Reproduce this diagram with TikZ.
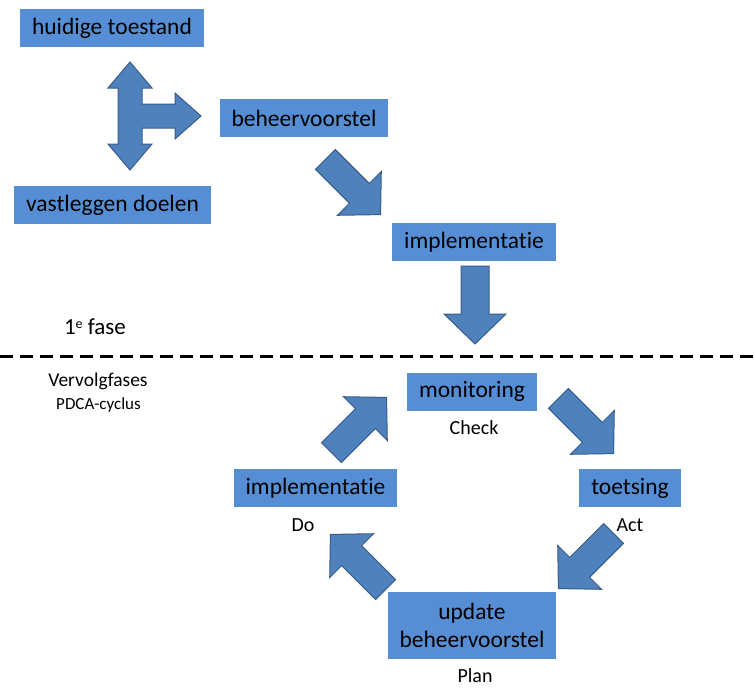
\documentclass[tikz,border=0pt]{standalone}
\usepackage{fontspec}
\setmainfont{Carlito}[Ligatures={NoCommon}]
\definecolor{boxblue}{RGB}{85,142,213}
\definecolor{arrowblue}{RGB}{79,129,189}
\definecolor{arrowline}{RGB}{56,93,138}

\begin{document}
\begin{tikzpicture}[
    x=1pt, y=-1pt,
    font=\fontsize{23.5}{28}\selectfont,
    box/.style={fill=boxblue, text=black, inner xsep=12pt, inner ysep=0pt,
                minimum height=38pt, align=center},
    note/.style={font=\fontsize{20}{24}\selectfont, inner sep=0pt},
    blockarrow/.style={fill=arrowblue, draw=arrowline, line width=1pt, line join=miter},
    pics/barrow/.style={code={
        \draw[blockarrow] (-39,-14) -- (9,-14) -- (9,-31) -- (39,0)
            -- (9,31) -- (9,14) -- (-39,14) -- cycle;
    }},
]

\useasboundingbox (0,0) rectangle (754,688);

% 1e fase
\node[box] (huidig)  at (112,28)  {huidige toestand};
\node[box] (voorstel) at (304,118) {beheervoorstel};
\node[box] (doelen)  at (112.5,205) {vastleggen doelen};
\node[box] (impl)    at (474,242) {implementatie};

% three-way arrow: up, down and right
\draw[blockarrow] (130,62) -- (152,88) -- (142,88) -- (142,104) -- (175,104)
    -- (175,93) -- (201,116) -- (175,139) -- (175,128) -- (142,128)
    -- (142,144) -- (152,144) -- (130,170) -- (108,144) -- (118,144)
    -- (118,88) -- (108,88) -- cycle;

\pic[rotate=-45] at (353,187) {barrow};
\pic[rotate=-90] at (475,305) {barrow};

\node[inner sep=0pt, font=\fontsize{23}{27}\selectfont] (fase1) at (95,327)
    {1\raisebox{0.55ex}{\fontsize{14}{14}\selectfont e} fase};

% phase border
\coordinate (sepL) at (0,356);
\coordinate (sepR) at (754,356);
\draw[line width=3pt, dash pattern=on 13pt off 7pt] (sepL) -- (sepR);

% Vervolgfases (PDCA)
\node[inner sep=0pt, font=\fontsize{19.5}{23}\selectfont] (vervolg) at (98,381) {Vervolgfases};
\node[inner sep=0pt, font=\fontsize{17}{20}\selectfont] (pdca) at (98.5,405) {PDCA-cyclus};

\node[box] (monitor) at (472,391.5) {monitoring};
\node[box] (toets)   at (630,488)   {toetsing};
\node[box] (implcyc) at (315.5,488) {implementatie};
\node[box, minimum height=67pt] (update) at (472,625.5) {update\\beheervoorstel};

\node[note] (check) at (474,428) {Check};
\node[note] (act)   at (630,525) {Act};
\node[note] (do)    at (303,525) {Do};
\node[note] (plan)  at (475,676) {Plan};

\pic[rotate=45]   at (359,425) {barrow};
\pic[rotate=-45]  at (586,426) {barrow};
\pic[rotate=-135] at (586,561) {barrow};
\pic[rotate=135]  at (358,562) {barrow};

\end{tikzpicture}
\end{document}
